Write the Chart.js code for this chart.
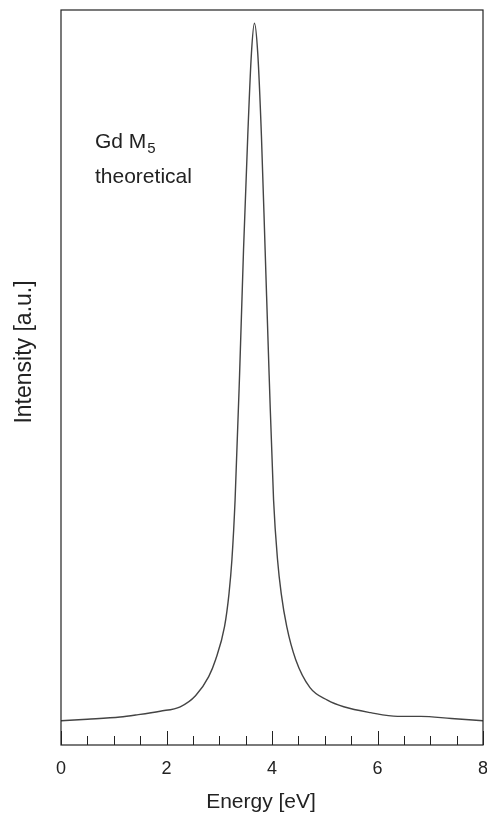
<!DOCTYPE html>
<html>
<head>
<meta charset="utf-8">
<title>Gd M5 theoretical</title>
<script src="https://cdn.jsdelivr.net/npm/chart.js@4/dist/chart.umd.min.js"></script>
<style>
  html, body { margin: 0; padding: 0; background: #fff; }
  canvas { display: block; }
</style>
</head>
<body>
<canvas id="chart-gd" width="487" height="813"></canvas>
<script>
// calculated Gd M5 line shape, energy in eV, intensity in arbitrary units
const energy = [
  0.00, 0.50, 1.12, 1.44, 1.88, 2.26, 2.55, 2.80, 2.93, 3.10,
  3.185, 3.24, 3.30, 3.385, 3.46, 3.54, 3.61, 3.667,
  3.73, 3.80, 3.87, 3.946, 4.03, 4.105, 4.175, 4.28, 4.45, 4.72,
  5.05, 5.36, 5.87, 6.38, 6.82, 7.40, 8.00
];
const intensity = [
  0.033, 0.035, 0.038, 0.041, 0.046, 0.052, 0.067, 0.093, 0.116, 0.161,
  0.206, 0.252, 0.333, 0.503, 0.673, 0.828, 0.941, 0.982,
  0.941, 0.828, 0.673, 0.503, 0.333, 0.252, 0.206, 0.161, 0.116, 0.078,
  0.061, 0.052, 0.044, 0.039, 0.039, 0.036, 0.033
];
const majorTicks = [0, 2, 4, 6, 8];
const minorStep = 0.5;

const FONT = '"Liberation Sans", Arial, Helvetica, sans-serif';
const INK = '#222';

// frame, inward ticks and the text labels
const framePlugin = {
  id: 'frame',
  afterDraw(chart) {
    const { ctx, chartArea: a, scales: { x } } = chart;
    ctx.save();
    ctx.strokeStyle = INK;
    ctx.lineWidth = 1.2;
    ctx.strokeRect(a.left, a.top, a.right - a.left, a.bottom - a.top);

    ctx.lineWidth = 1;
    for (let v = x.min; v <= x.max + 1e-9; v += minorStep) {
      const px = Math.round(x.getPixelForValue(v)) + 0.5;
      const len = majorTicks.includes(v) ? 14 : 9;
      ctx.beginPath();
      ctx.moveTo(px, a.bottom);
      ctx.lineTo(px, a.bottom - len);
      ctx.stroke();
    }

    ctx.fillStyle = INK;
    ctx.textBaseline = 'alphabetic';
    ctx.textAlign = 'left';
    ctx.font = '21px ' + FONT;
    const tx = a.left + 34;
    ctx.fillText('Gd M', tx, a.top + 138);
    const w = ctx.measureText('Gd M').width;
    ctx.font = '15px ' + FONT;
    ctx.fillText('5', tx + w + 1, a.top + 143);
    ctx.font = '21px ' + FONT;
    ctx.fillText('theoretical', tx, a.top + 173);

    ctx.textAlign = 'center';
    ctx.textBaseline = 'middle';
    ctx.font = '21px ' + FONT;
    ctx.fillText('Energy [eV]', 261, 802);

    ctx.font = '23px ' + FONT;
    ctx.translate(25, 352);
    ctx.rotate(-Math.PI / 2);
    ctx.fillText('Intensity [a.u.]', 0, 0);
    ctx.restore();
  }
};

new Chart(document.getElementById('chart-gd').getContext('2d'), {
  type: 'line',
  data: {
    datasets: [{
      label: 'Gd M5',
      data: energy.map((e, i) => ({ x: e, y: intensity[i] })),
      borderColor: '#444',
      borderWidth: 1.4,
      pointRadius: 0,
      cubicInterpolationMode: 'monotone',
      fill: false
    }]
  },
  options: {
    responsive: false,
    animation: false,
    devicePixelRatio: 1,
    layout: { padding: { top: 10, right: 4, bottom: 0, left: 0 } },
    plugins: {
      legend: { display: false },
      tooltip: { enabled: false }
    },
    scales: {
      x: {
        type: 'linear',
        min: 0,
        max: 8,
        grid: { display: false, drawTicks: false },
        border: { display: false },
        ticks: {
          stepSize: 2,
          padding: 13,
          color: INK,
          font: { family: FONT, size: 18 },
          maxRotation: 0
        },
        afterFit(s) {
          s.height = 68;
          s.paddingLeft = 0;
          s.paddingRight = 0;
        }
      },
      y: {
        min: 0,
        max: 1,
        grid: { display: false, drawTicks: false },
        border: { display: false },
        ticks: { display: false },
        afterFit(s) { s.width = 61; }
      }
    }
  },
  plugins: [framePlugin]
});
</script>
</body>
</html>
